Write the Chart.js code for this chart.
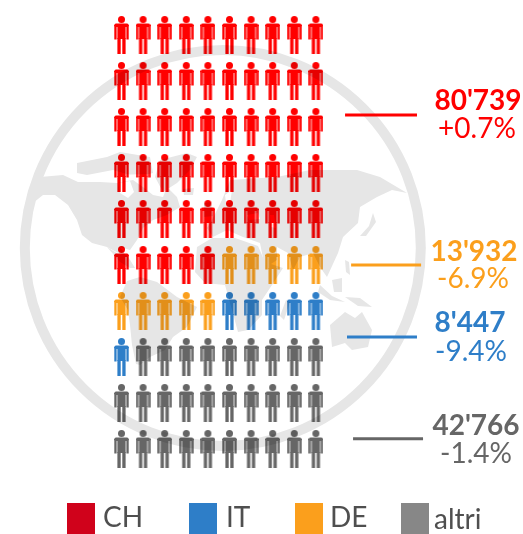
<!DOCTYPE html>
<html>
<head>
<meta charset="utf-8">
<title>Popolazione</title>
<script src="https://cdn.jsdelivr.net/npm/chart.js@4"></script>
<style>
  html, body { margin: 0; background: #fff; }
  canvas { display: block; }
</style>
</head>
<body>
<canvas id="chart" width="523" height="534"></canvas>
<script>
/* ===== DATA ===== */
const categories = ["CH", "DE", "IT", "altri"];
const iconCounts = [55, 10, 6, 29];
const totals = ["80'739", "13'932", "8'447", "42'766"];
const changes = ["+0.7%", "-6.9%", "-9.4%", "-1.4%"];
const legendOrder = ["CH", "IT", "DE", "altri"];

// leader lines, in grid units (column, row)
const leaderRows = [1.74, 5, 6.565, 8.78];
const leaderFrom = [10.35, 10.63, 10.44, 10.72];
const leaderTo = [13.68, 13.87, 13.68, 13.96];

/* ===== STYLE ===== */
const colors = { CH: "#ff0000", DE: "#fb9f1c", IT: "#2e7ec8", altri: "#666666" };
const legendColors = { CH: "#d0021b", DE: "#fb9f1c", IT: "#2e7ec8", altri: "#878787" };
const labelPos = [
  { x: 478, changeX: 477, total: 110, change: 138 },
  { x: 474, changeX: 473, total: 261, change: 288 },
  { x: 470, changeX: 471, total: 332, change: 361 },
  { x: 476, changeX: 476, total: 435, change: 463 }
];
const legendPos = {
  CH: { box: 67, text: 103, base: 527 },
  IT: { box: 189, text: 226, base: 527 },
  DE: { box: 295, text: 330, base: 527 },
  altri: { box: 401, text: 434, base: 529 }
};
const mapColor = "#e6e6e6";

// background world map, rough outlines in page pixels
const worldShapes = [
  // North America
  [[40,177],[63,175],[78,182],[100,182],[117,183],[133,180],[143,187],[153,195],[163,197],[167,187],[177,197],[180,207],[167,215],[153,220],[143,228],[137,240],[130,250],[120,247],[127,257],[122,255],[107,247],[92,243],[82,235],[77,220],[68,205],[55,195],[43,195],[33,203],[32,198],[35,183]],
  // arctic islands
  [[77,163],[107,157],[120,152],[150,157],[153,173],[137,177],[113,170],[87,175],[77,173]],
  // Greenland
  [[160,160],[187,153],[197,157],[190,170],[177,183],[163,192],[155,177]],
  // Central America
  [[107,247],[120,255],[127,255],[135,268],[130,268],[120,262]],
  // South America
  [[127,281],[140,277],[157,282],[177,297],[197,307],[187,327],[173,337],[165,350],[150,357],[140,365],[136,364],[132,345],[130,325],[128,310],[120,297]],
  // Africa
  [[197,247],[212,238],[235,238],[258,246],[265,262],[283,268],[272,285],[262,300],[262,315],[248,330],[238,332],[232,310],[225,285],[205,283],[195,272]],
  // Eurasia
  [[207,228],[213,218],[222,200],[230,180],[277,177],[310,170],[357,170],[380,177],[407,193],[392,190],[377,197],[360,207],[358,223],[343,237],[338,253],[327,277],[320,267],[313,253],[300,257],[293,270],[288,253],[277,247],[277,260],[265,268],[260,243],[243,237],[227,230],[213,237]],
  // Australia
  [[330,325],[345,312],[355,318],[362,312],[372,330],[368,347],[352,350],[345,343],[332,347]],
  // Indonesia, New Guinea
  [[320,285],[332,296],[345,302],[330,300],[318,292]],
  [[345,297],[360,298],[372,307],[358,306]],
  [[332,280],[342,278],[342,292],[334,292]],
  // Japan, Philippines, Madagascar, UK, Iceland
  [[373,213],[376,222],[366,236],[360,236],[369,226]],
  [[345,260],[349,262],[350,275],[346,272]],
  [[286,300],[290,302],[284,320],[280,316]],
  [[204,203],[211,202],[213,216],[204,217]],
  [[183,189],[194,188],[193,195],[184,195]]
];

// inland water cut out of the map
const worldHoles = [
  [[118,183],[130,181],[134,192],[128,198],[120,193]],   // Hudson Bay
  [[79,176],[150,174],[150,176],[79,179]],               // arctic channel
  [[247,215],[258,213],[260,219],[249,220]],             // Black Sea
  [[270,215],[274,215],[276,228],[271,227]],             // Caspian
  [[225,195],[232,190],[230,203],[226,203]]              // Baltic
];

/* ===== ICON ===== */
function personIcon(color) {
  const c = document.createElement("canvas");
  c.width = 15;
  c.height = 38;
  const g = c.getContext("2d");
  g.fillStyle = color;
  g.beginPath();
  g.arc(7.5, 3.5, 3.5, 0, Math.PI * 2);
  g.fill();
  g.beginPath();
  g.roundRect(0.3, 7.6, 14.4, 3.4, 2);
  g.fill();
  g.fillRect(0.3, 9, 2.3, 14.5);     // left arm
  g.fillRect(12.4, 9, 2.3, 14.5);    // right arm
  g.fillRect(3.4, 9, 8.2, 14);       // torso
  g.fillRect(3.4, 22, 3.3, 16);      // left leg
  g.fillRect(8.3, 22, 3.3, 16);      // right leg
  return c;
}

/* ===== DATASETS ===== */
function buildIconDatasets() {
  let index = 0;
  return categories.map(name => {
    const points = [];
    for (let i = 0; i < iconCounts[categories.indexOf(name)]; i++) {
      points.push({ x: index % 10, y: Math.floor(index / 10) });
      index++;
    }
    return {
      label: name,
      type: "scatter",
      data: points,
      pointStyle: personIcon(colors[name]),
      pointRadius: 8,
      pointHoverRadius: 8
    };
  });
}

function buildLeaderDatasets() {
  return categories.map((name, i) => ({
    label: name + " line",
    type: "scatter",
    showLine: true,
    data: [
      { x: leaderFrom[i], y: leaderRows[i] },
      { x: leaderTo[i], y: leaderRows[i] }
    ],
    borderColor: colors[name],
    borderWidth: 3,
    pointRadius: 0
  }));
}

/* ===== PLUGIN: globe behind, labels and legend on top ===== */
function fillShape(ctx, shape) {
  ctx.beginPath();
  shape.forEach((p, i) => (i ? ctx.lineTo(p[0], p[1]) : ctx.moveTo(p[0], p[1])));
  ctx.closePath();
  ctx.fill();
}

const backdrop = {
  id: "backdrop",
  beforeDatasetsDraw(chart) {
    const ctx = chart.ctx;
    ctx.save();
    ctx.strokeStyle = mapColor;
    ctx.lineWidth = 10;
    ctx.beginPath();
    ctx.arc(222.8, 248, 198, 0, Math.PI * 2);
    ctx.stroke();
    ctx.fillStyle = mapColor;
    worldShapes.forEach(shape => fillShape(ctx, shape));
    ctx.fillStyle = "#ffffff";
    worldHoles.forEach(shape => fillShape(ctx, shape));
    ctx.restore();
  },
  // icons darken over the globe, leader lines do not
  beforeDatasetDraw(chart, args) {
    if (args.index < categories.length) chart.ctx.globalCompositeOperation = "multiply";
  },
  afterDatasetDraw(chart) {
    chart.ctx.globalCompositeOperation = "source-over";
  },
  afterDatasetsDraw(chart) {
    const ctx = chart.ctx;
    ctx.save();
    ctx.textAlign = "center";
    ctx.textBaseline = "alphabetic";
    categories.forEach((name, i) => {
      ctx.fillStyle = colors[name];
      ctx.font = "bold 28px Lato";
      ctx.fillText(totals[i], labelPos[i].x, labelPos[i].total);
      ctx.font = "28px Lato";
      ctx.fillText(changes[i], labelPos[i].changeX, labelPos[i].change);
    });
    ctx.textAlign = "left";
    ctx.font = "28px Lato";
    legendOrder.forEach(name => {
      const pos = legendPos[name];
      ctx.fillStyle = legendColors[name];
      ctx.fillRect(pos.box, 503, 28, 31);
      ctx.fillStyle = "#4f4f4f";
      ctx.fillText(name, pos.text, pos.base);
    });
    ctx.restore();
  }
};

/* ===== CHART ===== */
new Chart(document.getElementById("chart"), {
  data: { datasets: buildIconDatasets().concat(buildLeaderDatasets()) },
  options: {
    responsive: false,
    animation: false,
    layout: { padding: 0, autoPadding: false },
    plugins: { legend: { display: false }, tooltip: { enabled: false } },
    scales: {
      x: { type: "linear", display: false, min: -5.625, max: 18.588 },
      y: { type: "linear", display: false, reverse: true, min: -0.761, max: 10.848 }
    }
  },
  plugins: [backdrop]
});
</script>
</body>
</html>
